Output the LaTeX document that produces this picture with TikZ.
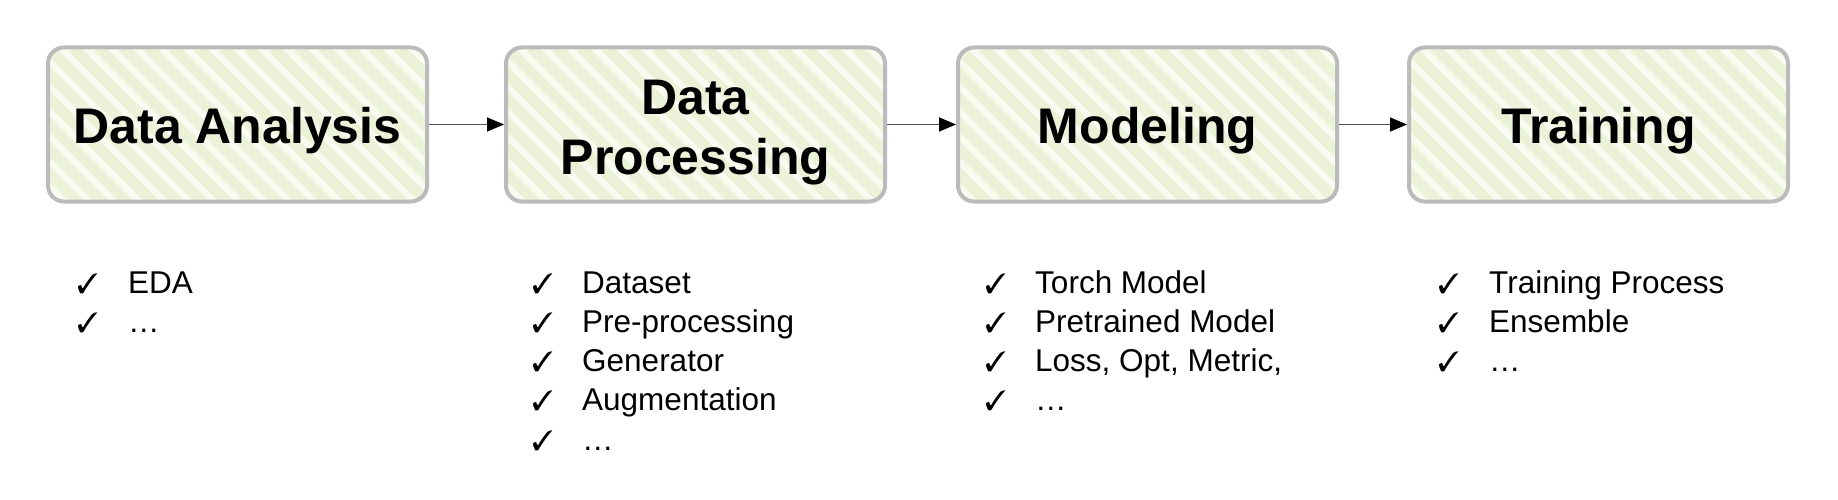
\documentclass[tikz,border=0pt]{standalone}
\usepackage{fontspec}
\setmainfont{Liberation Sans}
\usepackage{pifont}
\usetikzlibrary{arrows.meta}
\definecolor{boxgray}{HTML}{BBBBBB}
\definecolor{boxfill}{HTML}{F9FBF0}
\definecolor{stripecol}{HTML}{ECF2D8}
\definecolor{arrowgray}{HTML}{555555}
\tikzset{
  stage/.style={rectangle, rounded corners=16pt, minimum width=379pt, minimum height=154pt,
    draw=boxgray, line width=4pt, fill=boxfill, align=center,
    font=\fontsize{50}{60}\selectfont\bfseries,
    path picture={
      \foreach \i in {-8,...,18}{
        \draw[stripecol, line width=11pt] ([xshift=\i*25pt]path picture bounding box.north west) -- ++(220pt,-220pt);
      }
    }},
  title/.style={inner sep=0pt, align=center, font=\fontsize{50}{60}\selectfont\bfseries},
  flow/.style={draw=arrowgray, line width=1.6pt, -{Triangle[length=17pt,width=14pt,fill=black,color=black]}},
  chk/.style={anchor=base west, inner sep=0pt, font=\fontsize{28}{30}\selectfont},
  item/.style={anchor=base west, inner sep=0pt, font=\fontsize{31.5}{39}\selectfont}
}
\begin{document}
\begin{tikzpicture}[x=1pt,y=-1pt]
\useasboundingbox (0,0) rectangle (1838,500);
\node[stage] (s1) at (237.5,124.5) {};
\node[stage] (s2) at (695.5,124.5) {};
\node[stage] (s3) at (1147.5,124.5) {};
\node[stage] (s4) at (1598.5,124.5) {};
\node[title, anchor=base] (n1) at (237.5,143) {Data Analysis};
\node[title, anchor=base] (n2a) at (695.5,114) {Data};
\node[title, anchor=base] (n2b) at (695.5,174) {Processing};
\node[title, anchor=base] (n3) at (1147.5,143) {Modeling};
\node[title, anchor=base] (n4) at (1598.5,143) {Training};
\draw[flow] (s1.east) -- (s2.west);
\draw[flow] (s2.east) -- (s3.west);
\draw[flow] (s3.east) -- (s4.west);
% list 1
\foreach \t [count=\k] in {EDA,\dots}{
  \node[chk] (c1\k) at (77,{293+(\k-1)*39.3}) {\ding{51}};
  \node[item] (t1\k) at (128,{293+(\k-1)*39.3}) {\t};
}
% list 2
\foreach \t [count=\k] in {Dataset,Pre-processing,Generator,Augmentation,\dots}{
  \node[chk] (c2\k) at (532,{293+(\k-1)*39.3}) {\ding{51}};
  \node[item] (t2\k) at (582,{293+(\k-1)*39.3}) {\t};
}
% list 3
\foreach \t [count=\k] in {Torch Model,Pretrained Model,{Loss, Opt, Metric,},\dots}{
  \node[chk] (c3\k) at (985,{293+(\k-1)*39.3}) {\ding{51}};
  \node[item] (t3\k) at (1035,{293+(\k-1)*39.3}) {\t};
}
% list 4
\foreach \t [count=\k] in {Training Process,Ensemble,\dots}{
  \node[chk] (c4\k) at (1438,{293+(\k-1)*39.3}) {\ding{51}};
  \node[item] (t4\k) at (1489,{293+(\k-1)*39.3}) {\t};
}
\end{tikzpicture}
\end{document}
